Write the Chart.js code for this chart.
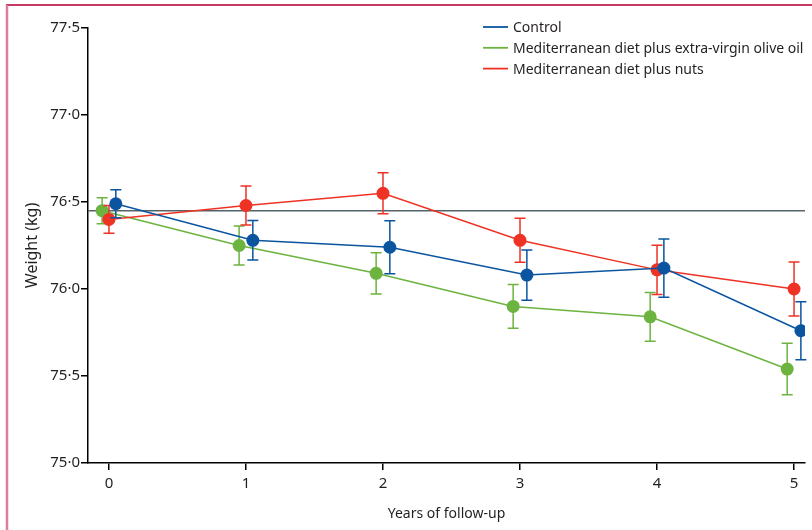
<!DOCTYPE html>
<html><head><meta charset="utf-8">
<script src="https://cdn.jsdelivr.net/npm/chart.js@4"></script>
<style>html,body{margin:0;padding:0;background:#fff}#wrap{position:relative;width:812px;height:530px}</style>
</head><body><div id="wrap"><canvas id="c" width="812" height="530"></canvas></div>
<script>
// ---- data ----
const years = [0, 1, 2, 3, 4, 5];
const seriesNames = ['Control', 'Mediterranean diet plus extra-virgin olive oil', 'Mediterranean diet plus nuts'];
const controlMean = [76.49, 76.28, 76.24, 76.08, 76.12, 75.76];
const controlErr  = [0.080, 0.113, 0.152, 0.144, 0.167, 0.167];
const oliveMean   = [76.45, 76.25, 76.09, 75.90, 75.84, 75.54];
const oliveErr    = [0.075, 0.112, 0.119, 0.126, 0.140, 0.148];
const nutsMean    = [76.40, 76.48, 76.55, 76.28, 76.11, 76.00];
const nutsErr     = [0.080, 0.112, 0.118, 0.126, 0.142, 0.155];
const baselineWeight = 76.45;
const yTicks = [75, 75.5, 76, 76.5, 77, 77.5];
const xTicks = [0, 1, 2, 3, 4, 5];

// ---- style ----
const BLUE = '#0b55a0', GREEN = '#6cb33f', RED = '#ee3224';
const TEXT = '#231f20';
const FONT = "'Noto Sans', sans-serif";
Chart.defaults.font.family = FONT;
Chart.defaults.font.size = 14;
Chart.defaults.color = TEXT;

const mk = (means, off) => means.map((v, i) => ({x: years[i] + off, y: v}));
function ds(label, means, err, color, off, order) {
  return {label, data: mk(means, off), err, borderColor: color, backgroundColor: color,
    borderWidth: 1.5, pointRadius: 6.5, pointHoverRadius: 6.5, pointBorderWidth: 0,
    tension: 0, order};
}

const errorBars = {
  id: 'errorBars',
  beforeDatasetDraw(chart, args) {
    const d = chart.data.datasets[args.index];
    if (!d.err) return;
    const {ctx, scales: {x, y}} = chart;
    ctx.save();
    ctx.strokeStyle = d.borderColor; ctx.lineWidth = 1.5;
    d.data.forEach((p, i) => {
      const px = x.getPixelForValue(p.x);
      const yt = y.getPixelForValue(p.y + d.err[i]);
      const yb = y.getPixelForValue(p.y - d.err[i]);
      ctx.beginPath();
      ctx.moveTo(px, yt); ctx.lineTo(px, yb);
      ctx.moveTo(px - 5.5, yt); ctx.lineTo(px + 5.5, yt);
      ctx.moveTo(px - 5.5, yb); ctx.lineTo(px + 5.5, yb);
      ctx.stroke();
    });
    ctx.restore();
  }
};

const baseline = {
  id: 'baseline',
  beforeDatasetsDraw(chart) {
    const {ctx, chartArea: a, scales: {y}} = chart;
    const py = y.getPixelForValue(baselineWeight);
    ctx.save(); ctx.strokeStyle = '#55636a'; ctx.lineWidth = 1.5;
    ctx.beginPath(); ctx.moveTo(a.left, py); ctx.lineTo(a.right, py); ctx.stroke();
    ctx.restore();
  }
};

const frame = {
  id: 'frame',
  beforeDraw(chart) {
    const ctx = chart.ctx;
    ctx.save();
    ctx.strokeStyle = '#c73a62'; ctx.lineWidth = 2;
    ctx.beginPath(); ctx.moveTo(6, 5); ctx.lineTo(812, 5); ctx.stroke();
    ctx.strokeStyle = '#e07c9e'; ctx.lineWidth = 2.5;
    ctx.beginPath(); ctx.moveTo(7, 5); ctx.lineTo(7, 530); ctx.stroke();
    ctx.restore();
  }
};

const legendColors = [BLUE, GREEN, RED];
const customLegend = {
  id: 'customLegend',
  afterDraw(chart) {
    const ctx = chart.ctx;
    ctx.save();
    ctx.font = '14px ' + FONT; ctx.fillStyle = TEXT; ctx.textBaseline = 'middle'; ctx.textAlign = 'left';
    seriesNames.forEach((n, i) => {
      const y = 27 + i * 20.8;
      ctx.strokeStyle = legendColors[i]; ctx.lineWidth = 1.8;
      ctx.beginPath(); ctx.moveTo(483, y); ctx.lineTo(508, y); ctx.stroke();
      ctx.fillText(n, 513, y + 1);
    });
    ctx.restore();
  }
};

new Chart(document.getElementById('c'), {
  type: 'line',
  data: {
    datasets: [
      ds(seriesNames[0], controlMean, controlErr, BLUE, 0.05, 0),
      ds(seriesNames[1], oliveMean, oliveErr, GREEN, -0.05, 2),
      ds(seriesNames[2], nutsMean, nutsErr, RED, 0, 1)
    ]
  },
  options: {
    responsive: false, animation: false, devicePixelRatio: 1,
    layout: {padding: {left: 0, right: 7, top: 28, bottom: 0}},
    plugins: {legend: {display: false}, tooltip: {enabled: false}},
    events: [],
    scales: {
      x: {
        type: 'linear', min: -0.153, max: 5.08,
        afterBuildTicks: s => { s.ticks = xTicks.map(v => ({value: v})); },
        afterFit: s => { s.height = 67; },
        grid: {drawOnChartArea: false, drawTicks: true, tickLength: 7, color: '#000', lineWidth: 1.5},
        border: {display: true, color: '#000', width: 1.5},
        ticks: {padding: 5, color: TEXT, font: {size: 15}, callback: v => String(v)},
        title: {display: true, text: 'Years of follow-up', color: TEXT, font: {size: 14}, padding: {top: 0, bottom: 8}}
      },
      y: {
        type: 'linear', min: 75, max: 77.5,
        afterBuildTicks: s => { s.ticks = yTicks.map(v => ({value: v})); },
        afterFit: s => { s.width = 88; },
        grid: {drawOnChartArea: false, drawTicks: true, tickLength: 7, color: '#000', lineWidth: 1.5},
        border: {display: true, color: '#000', width: 1.5},
        ticks: {padding: 1, color: TEXT, font: {size: 15}, callback: v => v.toFixed(1).replace('.', '\u00b7')},
        title: {display: true, text: 'Weight (kg)', color: TEXT, font: {size: 16}, padding: {top: 23, bottom: 0}}
      }
    }
  },
  plugins: [frame, baseline, errorBars, customLegend]
});
</script></body></html>
